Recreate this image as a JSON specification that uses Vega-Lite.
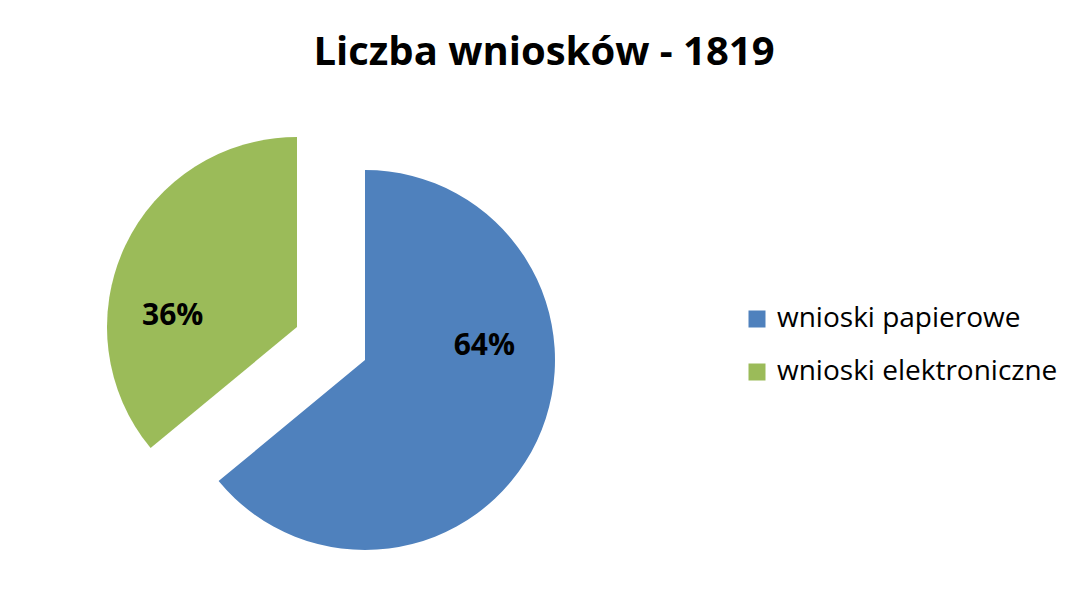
{
  "$schema": "https://vega.github.io/schema/vega-lite/v6.json",
  "width": 648,
  "height": 511,
  "autosize": {"type": "none"},
  "padding": {"left": 7, "top": 88, "right": 418, "bottom": 0},
  "background": "white",
  "config": {"view": {"stroke": null}},
  "title": {
    "text": "Liczba wniosków - 1819",
    "font": "Open Sans",
    "fontSize": 40,
    "fontWeight": "bold",
    "color": "black",
    "anchor": "middle",
    "frame": "group",
    "dx": 213,
    "offset": -17,
    "baseline": "alphabetic"
  },
  "data": {
    "values": [
      {"category": "wnioski papierowe", "share": 0.64},
      {"category": "wnioski elektroniczne", "share": 0.36}
    ]
  },
  "encoding": {
    "theta": {"field": "share", "type": "quantitative", "stack": true},
    "order": {"field": "share", "type": "quantitative", "sort": "descending"}
  },
  "layer": [
    {
      "mark": {"type": "arc", "outerRadius": 190, "xOffset": 34, "yOffset": 16.5},
      "encoding": {
        "color": {
          "field": "category",
          "type": "nominal",
          "scale": {"domain": ["wnioski papierowe", "wnioski elektroniczne"], "range": ["#4F81BD", "#9BBB59"]},
          "legend": {
            "title": null,
            "orient": "none",
            "legendX": 736,
            "legendY": 217,
            "symbolType": "square",
            "symbolSize": 289,
            "symbolStrokeWidth": 0,
            "symbolOpacity": 1,
            "labelFontSize": 28,
            "labelFont": "Open Sans",
            "labelColor": "black",
            "rowPadding": 25,
            "labelOffset": 6,
            "padding": 0,
            "labelLimit": 400
          }
        },
        "opacity": {"condition": {"test": "datum.category === 'wnioski papierowe'", "value": 1}, "value": 0}
      }
    },
    {
      "mark": {"type": "arc", "outerRadius": 190, "xOffset": -34, "yOffset": -16.5},
      "encoding": {
        "color": {"field": "category", "type": "nominal"},
        "opacity": {"condition": {"test": "datum.category === 'wnioski elektroniczne'", "value": 1}, "value": 0}
      }
    },
    {
      "mark": {"type": "text", "radius": 133, "xOffset": 34, "yOffset": 16.5, "dx": -1, "dy": -70.7, "font": "Open Sans", "fontSize": 30, "fontWeight": "bold", "color": "black", "baseline": "middle"},
      "encoding": {
        "text": {"field": "share", "type": "quantitative", "format": ".0%"},
        "detail": {"field": "category", "type": "nominal"},
        "opacity": {"condition": {"test": "datum.category === 'wnioski papierowe'", "value": 1}, "value": 0}
      }
    },
    {
      "mark": {"type": "text", "radius": 133, "xOffset": -34, "yOffset": -16.5, "dx": -4, "dy": 45.7, "font": "Open Sans", "fontSize": 30, "fontWeight": "bold", "color": "black", "baseline": "middle"},
      "encoding": {
        "text": {"field": "share", "type": "quantitative", "format": ".0%"},
        "detail": {"field": "category", "type": "nominal"},
        "opacity": {"condition": {"test": "datum.category === 'wnioski elektroniczne'", "value": 1}, "value": 0}
      }
    }
  ]
}
